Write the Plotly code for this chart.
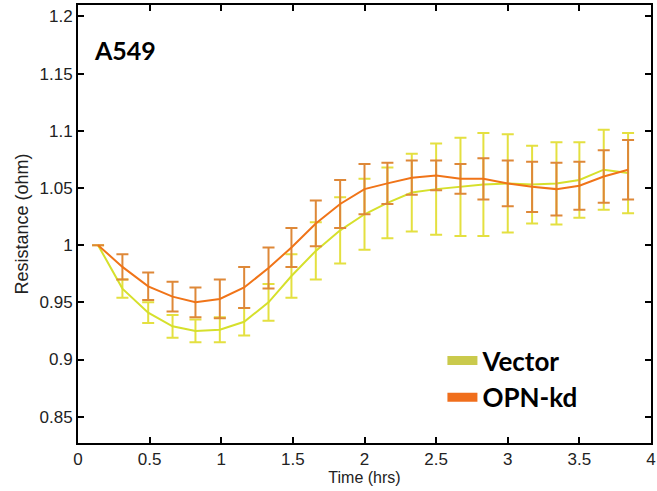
import plotly.graph_objects as go

time_hrs = [0.14, 0.31, 0.49, 0.66, 0.82, 0.99, 1.16, 1.33, 1.49, 1.66, 1.83, 2.00,
            2.16, 2.33, 2.50, 2.67, 2.83, 3.00, 3.17, 3.34, 3.50, 3.67, 3.84]

vector_mean = [1.000, 0.962, 0.941, 0.929, 0.925, 0.926, 0.933, 0.950, 0.973, 0.995,
               1.013, 1.027, 1.037, 1.046, 1.049, 1.051, 1.053, 1.054, 1.053, 1.054,
               1.057, 1.066, 1.063]
vector_err = [0.000, 0.008, 0.009, 0.010, 0.010, 0.011, 0.012, 0.016, 0.019, 0.025,
              0.029, 0.031, 0.031, 0.034, 0.040, 0.043, 0.045, 0.043, 0.034, 0.036,
              0.033, 0.035, 0.035]

opn_mean = [1.000, 0.981, 0.964, 0.955, 0.950, 0.953, 0.963, 0.980, 0.998, 1.019,
            1.036, 1.049, 1.054, 1.059, 1.061, 1.058, 1.058, 1.054, 1.051, 1.049,
            1.052, 1.060, 1.066]
opn_err = [0.000, 0.011, 0.012, 0.013, 0.013, 0.017, 0.018, 0.018, 0.017, 0.020,
           0.021, 0.022, 0.018, 0.015, 0.013, 0.013, 0.018, 0.020, 0.022, 0.023,
           0.021, 0.023, 0.026]

series_names = ["Vector", "OPN-kd"]
x_ticks = [0, 0.5, 1, 1.5, 2, 2.5, 3, 3.5, 4]
x_tick_labels = ["0", "0.5", "1", "1.5", "2", "2.5", "3", "3.5", "4"]
y_ticks = [0.85, 0.9, 0.95, 1.0, 1.05, 1.1, 1.15, 1.2]
y_tick_labels = ["0.85", "0.9", "0.95", "1", "1.05", "1.1", "1.15", "1.2"]

SANS = "Arial, Liberation Sans, sans-serif"
BOLD = "Lato, sans-serif"

fig = go.Figure()

fig.add_trace(go.Scatter(
    x=time_hrs, y=vector_mean, mode="lines", showlegend=False,
    line=dict(color="#D6E02C", width=2),
    error_y=dict(type="data", array=vector_err, visible=True,
                 color="#E4E040", thickness=2, width=6),
))
fig.add_trace(go.Scatter(
    x=time_hrs, y=opn_mean, mode="lines", showlegend=False,
    line=dict(color="#F07418", width=2),
    error_y=dict(type="data", array=opn_err, visible=True,
                 color="#DE8838", thickness=2, width=6),
))

# legend entries
fig.add_trace(go.Scatter(x=[None], y=[None], mode="lines", name="<b>" + series_names[0] + "</b>",
                         legendgroup="a", line=dict(color="#CACA4C", width=9)))
fig.add_trace(go.Scatter(x=[None], y=[None], mode="lines", name="<b>" + series_names[1] + "</b>",
                         legendgroup="b", line=dict(color="#F06E1C", width=9)))

axis_common = dict(
    showline=True, linecolor="black", linewidth=2, mirror="ticks",
    ticks="inside", ticklen=6, tickcolor="black", tickwidth=1.5,
    showgrid=False, zeroline=False, automargin=False,
    tickfont=dict(family=SANS, size=17, color="#222"),
)

fig.update_xaxes(range=[0, 4], tickvals=x_ticks, ticktext=x_tick_labels,
                 title=dict(text="Time (hrs)", font=dict(family=SANS, size=16, color="#222"), standoff=2),
                 **axis_common)
fig.update_yaxes(range=[0.827, 1.21], tickvals=y_ticks, ticktext=y_tick_labels,
                 title=dict(text="Resistance (ohm)", font=dict(family=SANS, size=18, color="#222"), standoff=6),
                 **axis_common)

fig.add_annotation(text="<b>A549</b>", xref="paper", yref="paper", x=0.024, y=0.897,
                   xanchor="left", yanchor="middle", showarrow=False,
                   font=dict(family=BOLD, size=25, color="black"))

fig.update_layout(
    width=657, height=491,
    margin=dict(l=78, r=6, t=5, b=48),
    paper_bgcolor="white", plot_bgcolor="white",
    legend=dict(x=0.636, y=0.242, xanchor="left", yanchor="top",
                traceorder="grouped", tracegroupgap=0,
                bgcolor="rgba(0,0,0,0)",
                font=dict(family=BOLD, size=26, color="black")),
)

fig.write_html("out.html", config={"displayModeBar": False},
               post_script="document.body.style.margin='0';")
